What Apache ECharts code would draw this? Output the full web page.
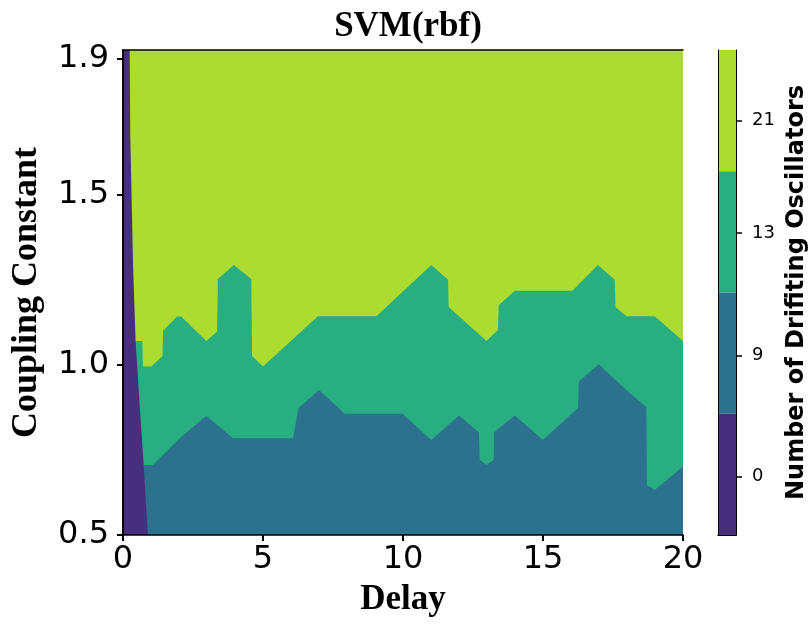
<!DOCTYPE html>
<html>
<head>
<meta charset="utf-8">
<script src="https://cdn.jsdelivr.net/npm/echarts@6/dist/echarts.min.js"></script>
<style>
  html, body { margin: 0; padding: 0; background: #fff; }
  #chart { width: 810px; height: 624px; }
</style>
</head>
<body>
<div id="chart"></div>
<script>
// plot extent
var xMin = 0, xMax = 20;
var yMin = 0.5, yMax = 1.925;
var yTicks = [0.5, 1.0, 1.5, 1.9];

// region boundaries, as [delay, coupling]
var topLevel = [[0, 1.925], [20, 1.925]];
var tealEdge = [
    [0, 1.07], [0.69, 1.07], [0.71, 0.995], [1.01, 0.995], [1.41, 1.026], [1.43, 1.10],
    [1.93, 1.142], [2.08, 1.142], [2.56, 1.103], [2.98, 1.07], [3.36, 1.098], [3.39, 1.252],
    [3.96, 1.293], [4.58, 1.252], [4.61, 1.026], [5.0, 0.995], [6.96, 1.143], [9.05, 1.143],
    [11.01, 1.293], [11.61, 1.25], [11.63, 1.17], [12.98, 1.07], [13.39, 1.102], [13.42, 1.175],
    [13.99, 1.218], [16.05, 1.218], [16.96, 1.293], [17.56, 1.25], [17.59, 1.17], [17.98, 1.143],
    [18.99, 1.143], [20, 1.07]
];
var blueEdge = [
    [0, 0.706], [1.07, 0.706], [2.08, 0.789], [2.98, 0.85], [3.93, 0.784], [6.07, 0.784],
    [6.27, 0.873], [7.0, 0.926], [7.92, 0.856], [9.98, 0.856], [11.01, 0.779], [12.0, 0.851],
    [12.71, 0.801], [12.74, 0.721], [12.98, 0.706], [13.24, 0.721], [13.25, 0.801], [13.99, 0.851],
    [15.0, 0.779], [16.25, 0.873], [16.28, 0.951], [16.99, 1.002], [18.04, 0.921], [18.69, 0.876],
    [18.71, 0.647], [18.99, 0.632], [20, 0.701]
];
var purpleEdge = [
    [0, 1.925], [0.24, 1.925], [0.26, 1.67], [0.36, 1.29], [0.45, 1.07], [0.60, 0.876],
    [0.74, 0.704], [0.80, 0.62], [0.89, 0.5]
];

// colour bar
var levels = ['0', '9', '13', '21'];
var levelTickPos = [0.48, 1.48, 2.49, 3.42];
var levelColors = ['#472f7d', '#2c718e', '#28ae80', '#addc30'];

var myChart = echarts.init(document.getElementById('chart'));

function areaSeries(data, color) {
    return {
        type: 'line',
        xAxisIndex: 0,
        yAxisIndex: 0,
        data: data,
        symbol: 'none',
        lineStyle: { width: 0 },
        areaStyle: { color: color, opacity: 1, origin: 'start' },
        silent: true
    };
}

var series = [
    areaSeries(topLevel, levelColors[3]),
    areaSeries(tealEdge, levelColors[2]),
    areaSeries(blueEdge, levelColors[1]),
    areaSeries(purpleEdge, levelColors[0])
];
levels.forEach(function (lv, i) {
    series.push({
        type: 'bar',
        xAxisIndex: 2,
        yAxisIndex: 2,
        stack: 'cb',
        barWidth: '100%',
        data: [1],
        itemStyle: { color: levelColors[i] },
        silent: true
    });
});

var tickFont = { fontFamily: 'DejaVu Sans', fontSize: 32, color: '#000' };
var serifBold = { fontFamily: 'Liberation Serif', fontWeight: 'bold', fontSize: 35, color: '#000' };
var spine = { show: true, lineStyle: { color: '#000', width: 1.5 } };

option = {
    animation: false,
    title: {
        text: 'SVM(rbf)',
        left: 403,
        textAlign: 'center',
        top: 4,
        textStyle: serifBold
    },
    grid: [
        { left: 123, top: 50, right: 127, bottom: 89 },
        { left: 718, top: 50, width: 24, bottom: 89 }
    ],
    xAxis: [
        {
            type: 'value', gridIndex: 0, min: xMin, max: xMax, interval: 5, z: 10,
            name: 'Delay', nameLocation: 'middle', nameGap: 47, nameTextStyle: serifBold,
            axisLine: spine,
            axisTick: { show: true, length: 6, lineStyle: { color: '#000', width: 2 } },
            axisLabel: Object.assign({ margin: 9 }, tickFont),
            splitLine: { show: false }
        },
        {
            type: 'value', gridIndex: 0, min: xMin, max: xMax, position: 'top', z: 10,
            axisLine: spine, axisTick: { show: false }, axisLabel: { show: false }, splitLine: { show: false }
        },
        {
            type: 'category', gridIndex: 1, data: ['cb'], z: 10,
            axisLine: { show: true, lineStyle: { color: '#000', width: 1 } },
            axisTick: { show: false }, axisLabel: { show: false }
        },
        {
            type: 'category', gridIndex: 1, data: ['cb'], position: 'top', z: 10,
            axisLine: { show: true, lineStyle: { color: '#000', width: 1 } },
            axisTick: { show: false }, axisLabel: { show: false }
        }
    ],
    yAxis: [
        {
            type: 'value', gridIndex: 0, min: yMin, max: yMax, z: 10,
            name: 'Coupling Constant', nameLocation: 'middle', nameRotate: 90, nameGap: 78,
            nameTextStyle: Object.assign({}, serifBold, { fontSize: 36 }),
            axisLine: spine,
            axisTick: { show: true, length: 6, customValues: yTicks, lineStyle: { color: '#000', width: 2 } },
            axisLabel: Object.assign({
                margin: 14,
                customValues: yTicks,
                formatter: function (v) { return v.toFixed(1); }
            }, tickFont),
            splitLine: { show: false }
        },
        {
            type: 'value', gridIndex: 0, min: yMin, max: yMax, position: 'right', z: 10,
            axisLine: spine, axisTick: { show: false }, axisLabel: { show: false }, splitLine: { show: false }
        },
        {
            type: 'value', gridIndex: 1, min: 0, max: levels.length, position: 'right', z: 10,
            name: 'Number of Drifiting Oscillators', nameLocation: 'middle', nameRotate: 90, nameGap: 49,
            nameTextStyle: { fontFamily: 'DejaVu Sans', fontWeight: 'bold', fontSize: 24, color: '#000' },
            axisLine: { show: true, lineStyle: { color: '#000', width: 1 } },
            axisTick: { show: true, length: 6, customValues: levelTickPos, lineStyle: { color: '#000', width: 1.5 } },
            axisLabel: {
                margin: 16, customValues: levelTickPos,
                fontFamily: 'DejaVu Sans', fontSize: 18, color: '#000',
                formatter: function (v) { return levels[levelTickPos.indexOf(v)]; }
            },
            splitLine: { show: false }
        },
        {
            type: 'value', gridIndex: 1, min: 0, max: levels.length, position: 'left', z: 10,
            axisLine: { show: true, lineStyle: { color: '#000', width: 1 } },
            axisTick: { show: false }, axisLabel: { show: false }, splitLine: { show: false }
        }
    ],
    series: series
};
myChart.setOption(option);
</script>
</body>
</html>
